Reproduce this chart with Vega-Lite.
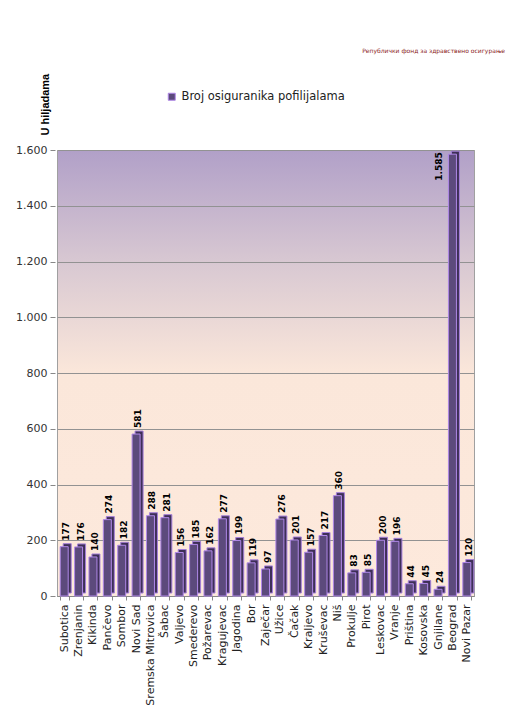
{
  "$schema": "https://vega.github.io/schema/vega-lite/v6.json",
  "autosize": {"type": "none"},
  "padding": {"left": 57, "top": 150, "right": 57, "bottom": 125},
  "width": 417,
  "height": 446,
  "background": "#ffffff",
  "title": {
    "text": "Републички фонд за здравствено осигурање",
    "anchor": "end",
    "frame": "group",
    "fontSize": 6,
    "font": "DejaVu Sans",
    "fontWeight": "normal",
    "color": "#8b1c1c",
    "offset": 0,
    "dx": 31,
    "dy": -19
  },
  "data": {
    "values": [
      {"filijala": "Subotica", "v": 177},
      {"filijala": "Zrenjanin", "v": 176},
      {"filijala": "Kikinda", "v": 140},
      {"filijala": "Pančevo", "v": 274},
      {"filijala": "Sombor", "v": 182},
      {"filijala": "Novi Sad", "v": 581},
      {"filijala": "Sremska Mitrovica", "v": 288},
      {"filijala": "Šabac", "v": 281},
      {"filijala": "Valjevo", "v": 156},
      {"filijala": "Smederevo", "v": 185},
      {"filijala": "Požarevac", "v": 162},
      {"filijala": "Kragujevac", "v": 277},
      {"filijala": "Jagodina", "v": 199},
      {"filijala": "Bor", "v": 119},
      {"filijala": "Zaječar", "v": 97},
      {"filijala": "Užice", "v": 276},
      {"filijala": "Čačak", "v": 201},
      {"filijala": "Kraljevo", "v": 157},
      {"filijala": "Kruševac", "v": 217},
      {"filijala": "Niš", "v": 360},
      {"filijala": "Prokulje", "v": 83},
      {"filijala": "Pirot", "v": 85},
      {"filijala": "Leskovac", "v": 200},
      {"filijala": "Vranje", "v": 196},
      {"filijala": "Priština", "v": 44},
      {"filijala": "Kosovska", "v": 45},
      {"filijala": "Gnjilane", "v": 24},
      {"filijala": "Beograd", "v": 1585},
      {"filijala": "Novi Pazar", "v": 120}
    ]
  },
  "encoding": {
    "x": {
      "field": "filijala",
      "type": "nominal",
      "sort": null,
      "scale": {"paddingInner": 0.4, "paddingOuter": 0.2},
      "axis": {
        "title": null,
        "labelAngle": 270,
        "labelFont": "DejaVu Sans",
        "labelFontSize": 11,
        "labelColor": "#222222",
        "labelPadding": 4,
        "labelOverlap": false,
        "tickSize": 4,
        "tickBand": "extent",
        "tickColor": "#888888",
        "domainColor": "#888888",
        "grid": false
      }
    },
    "y": {
      "field": "v",
      "type": "quantitative",
      "scale": {"domain": [0, 1600], "nice": false},
      "axis": {
        "values": [0, 200, 400, 600, 800, 1000, 1200, 1400, 1600],
        "title": "U hiljadama",
        "titleFont": "Liberation Sans",
        "titleFontSize": 11,
        "titleFontWeight": "bold",
        "titleColor": "#000000",
        "titleAngle": 270,
        "titleAlign": "left",
        "titleBaseline": "middle",
        "titleX": -10,
        "titleY": -15,
        "labelFont": "DejaVu Sans",
        "labelFontSize": 11,
        "labelColor": "#333333",
        "labelPadding": 3,
        "tickSize": 5,
        "tickColor": "#888888",
        "offset": 2,
        "domain": false,
        "grid": true,
        "gridColor": "#929292",
        "gridWidth": 1
      }
    }
  },
  "layer": [
    {
      "mark": {
        "type": "bar",
        "width": 8,
        "xOffset": 3,
        "x2Offset": 3,
        "yOffset": -3,
        "y2Offset": -3,
        "fill": "#3e2f57",
        "stroke": "#a47fd9",
        "strokeWidth": 1
      }
    },
    {
      "mark": {
        "type": "bar",
        "width": 8,
        "stroke": "#b088e8",
        "strokeWidth": 1
      },
      "encoding": {
        "color": {
          "datum": "Broj osiguranika pofilijalama",
          "scale": {"range": ["#5c4a7c"]},
          "legend": {
            "orient": "none",
            "legendX": 109,
            "legendY": -59,
            "title": null,
            "padding": 0,
            "symbolType": "square",
            "symbolSize": 49,
            "symbolStrokeColor": "#b088e8",
            "symbolStrokeWidth": 1,
            "labelFont": "DejaVu Sans",
            "labelFontSize": 11.5,
            "labelColor": "#222222",
            "labelOffset": 4,
            "labelLimit": 0
          }
        }
      }
    },
    {
      "transform": [{"filter": "datum.v < 1000"}],
      "mark": {
        "type": "text",
        "angle": 270,
        "align": "left",
        "baseline": "middle",
        "dx": 6,
        "dy": 2,
        "font": "DejaVu Sans",
        "fontSize": 9,
        "fontWeight": "bold",
        "color": "#000000"
      },
      "encoding": {
        "text": {"field": "v", "type": "quantitative", "format": ",d"}
      }
    },
    {
      "transform": [{"filter": "datum.v >= 1000"}],
      "mark": {
        "type": "text",
        "angle": 270,
        "align": "right",
        "baseline": "middle",
        "dx": 2,
        "dy": -13,
        "font": "DejaVu Sans",
        "fontSize": 9,
        "fontWeight": "bold",
        "color": "#000000"
      },
      "encoding": {
        "text": {"field": "v", "type": "quantitative", "format": ",d"}
      }
    }
  ],
  "config": {
    "locale": {
      "number": {"decimal": ",", "thousands": ".", "grouping": [3], "currency": ["", ""]}
    },
    "view": {
      "stroke": "#a0a0a0",
      "fill": {
        "gradient": "linear",
        "x1": 0, "y1": 0, "x2": 0, "y2": 1,
        "stops": [
          {"offset": 0, "color": "#b1a0c8"},
          {"offset": 0.25, "color": "#d8c8d2"},
          {"offset": 0.5, "color": "#fbe7da"},
          {"offset": 1, "color": "#fde9dc"}
        ]
      }
    }
  }
}
